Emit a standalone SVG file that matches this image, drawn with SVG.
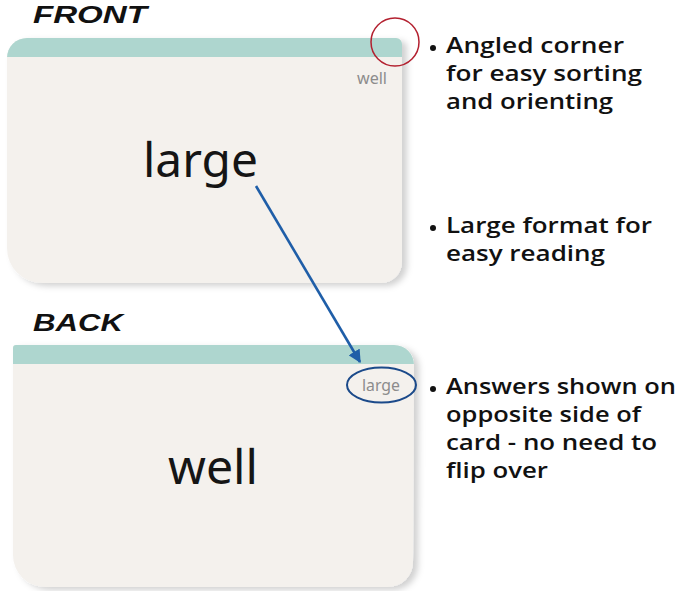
<svg xmlns="http://www.w3.org/2000/svg" width="679" height="591" viewBox="0 0 679 591">
  <defs>
    <style>
      .card { fill: #f4f1ed; }
      .band { fill: #aed6cf; }
      .title { font-family: "Liberation Sans", Arial, sans-serif; font-style: italic; font-weight: bold; font-size: 24px; fill: #111; }
      .big { font-family: "Noto Sans", "Liberation Sans", sans-serif; font-size: 47px; fill: #151515; }
      .small { font-family: "Noto Sans", "Liberation Sans", sans-serif; font-size: 16px; fill: #8c8c8c; }
      .note { font-family: "Open Sans", "Liberation Sans", sans-serif; font-weight: 600; font-size: 22px; fill: #111; }
      .bullet { fill: #111; }
    </style>
    <filter id="shadow" x="-5%" y="-5%" width="115%" height="115%">
      <feDropShadow dx="5" dy="3" stdDeviation="3" flood-color="#000" flood-opacity="0.18"/>
    </filter>
    <clipPath id="frontClip">
      <path d="M7,58 A20,20 0 0 1 27,38 L396,38 A6,6 0 0 1 402,44 L402,262 A21,21 0 0 1 381,283 L42,283 A35,35 0 0 1 7,248 Z"/>
    </clipPath>
    <clipPath id="backClip">
      <path d="M13,348 A3,3 0 0 1 16,345 L394,345 A20,20 0 0 1 414,365 L413,562 A25,25 0 0 1 388,587 L45,587 A32,32 0 0 1 13,555 Z"/>
    </clipPath>
    <marker id="arrow" viewBox="0 0 10 10" refX="9" refY="5" markerWidth="5" markerHeight="5" orient="auto" markerUnits="strokeWidth">
      <path d="M0,0 L10,5 L0,10 Z" fill="#1f5ea8"/>
    </marker>
  </defs>

  <g id="front-card">
    <path class="card" filter="url(#shadow)" d="M7,58 A20,20 0 0 1 27,38 L396,38 A6,6 0 0 1 402,44 L402,262 A21,21 0 0 1 381,283 L42,283 A35,35 0 0 1 7,248 Z"/>
    <rect class="band" x="0" y="38" width="410" height="19" clip-path="url(#frontClip)"/>
    <text class="small" x="357" y="84" textLength="30" lengthAdjust="spacingAndGlyphs">well</text>
    <text class="big" x="143" y="177" textLength="115" lengthAdjust="spacingAndGlyphs">large</text>
  </g>

  <g id="back-card">
    <path class="card" filter="url(#shadow)" d="M13,348 A3,3 0 0 1 16,345 L394,345 A20,20 0 0 1 414,365 L413,562 A25,25 0 0 1 388,587 L45,587 A32,32 0 0 1 13,555 Z"/>
    <rect class="band" x="0" y="345" width="420" height="19" clip-path="url(#backClip)"/>
    <text class="small" x="362" y="391" textLength="38" lengthAdjust="spacingAndGlyphs">large</text>
    <text class="big" x="168" y="484" textLength="90" lengthAdjust="spacingAndGlyphs">well</text>
  </g>

  <g id="titles">
    <text class="title" x="33" y="23" textLength="114" lengthAdjust="spacingAndGlyphs">FRONT</text>
    <text class="title" x="33" y="331" textLength="90" lengthAdjust="spacingAndGlyphs">BACK</text>
  </g>

  <g id="highlights">
    <circle cx="395" cy="42" r="24" fill="none" stroke="#b3202f" stroke-width="1.5"/>
    <ellipse cx="381.5" cy="385" rx="34.5" ry="17.5" fill="none" stroke="#1b4a8a" stroke-width="2"/>
  </g>

  <g id="connectors">
    <line x1="256" y1="186" x2="360" y2="362" stroke="#1f5ea8" stroke-width="2.6" marker-end="url(#arrow)"/>
  </g>

  <g id="note-corner">
    <circle class="bullet" cx="433" cy="48" r="3"/>
    <text class="note" x="446" y="53" textLength="178" lengthAdjust="spacingAndGlyphs">Angled corner</text>
    <text class="note" x="446" y="81" textLength="196" lengthAdjust="spacingAndGlyphs">for easy sorting</text>
    <text class="note" x="446" y="109" textLength="167" lengthAdjust="spacingAndGlyphs">and orienting</text>
  </g>

  <g id="note-format">
    <circle class="bullet" cx="433" cy="228" r="3"/>
    <text class="note" x="446" y="233" textLength="206" lengthAdjust="spacingAndGlyphs">Large format for</text>
    <text class="note" x="446" y="261" textLength="159" lengthAdjust="spacingAndGlyphs">easy reading</text>
  </g>

  <g id="note-answers">
    <circle class="bullet" cx="433" cy="389" r="3"/>
    <text class="note" x="446" y="394" textLength="230" lengthAdjust="spacingAndGlyphs">Answers shown on</text>
    <text class="note" x="446" y="422" textLength="195" lengthAdjust="spacingAndGlyphs">opposite side of</text>
    <text class="note" x="446" y="450" textLength="211" lengthAdjust="spacingAndGlyphs">card - no need to</text>
    <text class="note" x="446" y="478" textLength="102" lengthAdjust="spacingAndGlyphs">flip over</text>
  </g>
</svg>
